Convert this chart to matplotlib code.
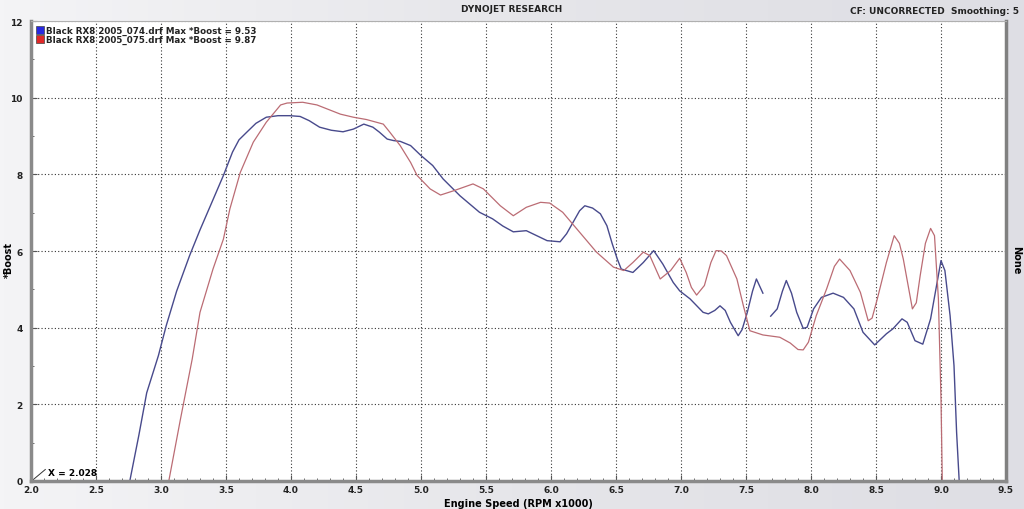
import numpy as np
import matplotlib
matplotlib.use("Agg")
import matplotlib.pyplot as plt
from matplotlib.patches import Rectangle

# run 074 (blue) - boost vs engine speed (RPM x1000)
blue_rpm = [2.76, 2.83, 2.89, 2.98, 3.04, 3.12, 3.22, 3.30, 3.38, 3.48, 3.55, 3.60, 3.66, 3.73, 3.81,
            3.90, 3.99, 4.07, 4.14, 4.22, 4.31, 4.40, 4.48, 4.56, 4.63, 4.68, 4.74, 4.79, 4.84, 4.92,
            5.00, 5.09, 5.17, 5.30, 5.45, 5.55, 5.63, 5.71, 5.81, 5.89, 5.97, 6.07, 6.12, 6.17, 6.22,
            6.26, 6.32, 6.38, 6.43, 6.47, 6.51, 6.54, 6.63, 6.71, 6.79, 6.86,
            6.94, 6.99, 7.07, 7.17, 7.21, 7.26, 7.30, 7.34, 7.38, 7.44, 7.47, 7.51, 7.55, 7.58, 7.63, 7.66,
            7.69, 7.74, 7.78, 7.81, 7.85, 7.89, 7.94, 7.97, 8.02, 8.08, 8.17, 8.25, 8.33, 8.40, 8.49,
            8.58, 8.63, 8.70, 8.74, 8.80, 8.86, 8.92, 8.97, 9.00, 9.03, 9.07, 9.10, 9.12, 9.14]
blue_boost = [0.0, 1.2, 2.3, 3.27, 4.05, 4.95, 5.88, 6.55, 7.18, 7.97, 8.58, 8.90, 9.10, 9.33, 9.49,
              9.53, 9.53, 9.51, 9.40, 9.23, 9.15, 9.11, 9.18, 9.31, 9.23, 9.10, 8.92, 8.88, 8.86, 8.75,
              8.49, 8.23, 7.88, 7.44, 7.01, 6.84, 6.65, 6.50, 6.53, 6.40, 6.27, 6.24, 6.45, 6.75, 7.05,
              7.18, 7.12, 6.97, 6.66, 6.20, 5.79, 5.53, 5.44, 5.70, 6.01, 5.66,
              5.18, 4.96, 4.75, 4.40, 4.36, 4.45, 4.57, 4.45, 4.14, 3.79, 3.95, 4.40, 4.95, 5.27, 4.90, np.nan,
              4.30, 4.49, 4.95, 5.23, 4.90, 4.40, 3.98, 4.01, 4.49, 4.79, 4.90, 4.79, 4.49, 3.88, 3.55,
              3.84, 3.97, 4.23, 4.14, 3.66, 3.57, 4.23, 5.18, 5.75, 5.49, 4.31, 3.01, 1.27, 0.0]

# run 075 (red)
red_rpm = [3.06, 3.15, 3.24, 3.30, 3.40, 3.48, 3.53, 3.61, 3.71, 3.81, 3.92, 3.97, 4.09, 4.20,
           4.38, 4.48, 4.58, 4.71, 4.76, 4.84, 4.92, 4.97, 5.07, 5.15, 5.25, 5.40, 5.48, 5.61,
           5.71, 5.81, 5.92, 5.99, 6.09, 6.22, 6.35, 6.48, 6.56, 6.63, 6.71, 6.76, 6.84, 6.92,
           6.99, 7.04, 7.08, 7.12, 7.18, 7.23, 7.27, 7.31, 7.35, 7.43, 7.48, 7.53, 7.63, 7.76, 7.84, 7.90, 7.94, 7.98,
           8.04, 8.12, 8.18, 8.22, 8.30, 8.38, 8.44, 8.47, 8.51, 8.58, 8.64, 8.68, 8.71, 8.78, 8.81, 8.84, 8.88, 8.92, 8.95,
           8.98, 9.00, 9.01]
red_boost = [0.0, 1.62, 3.18, 4.40, 5.53, 6.31, 7.10, 8.05, 8.84, 9.36, 9.81, 9.86, 9.88, 9.81,
             9.57, 9.49, 9.43, 9.31, 9.10, 8.75, 8.31, 7.97, 7.62, 7.46, 7.57, 7.75, 7.62, 7.18,
             6.92, 7.14, 7.27, 7.25, 7.01, 6.49, 5.97, 5.58, 5.49, 5.70, 5.97, 5.88, 5.27, 5.49,
             5.81, 5.44, 5.05, 4.85, 5.10, 5.70, 6.01, 6.00, 5.88, 5.27, 4.57, 3.92, 3.81, 3.75, 3.60, 3.43, 3.42, 3.62,
             4.31, 5.01, 5.60, 5.79, 5.49, 4.92, 4.18, 4.25, 4.75, 5.70, 6.40, 6.20, 5.79, 4.49, 4.65, 5.36, 6.20, 6.59, 6.40,
             4.75, 2.14, 0.0]

legend_labels = ["Black RX8 2005_074.drf Max *Boost = 9.53",
                 "Black RX8 2005_075.drf Max *Boost = 9.87"]
x_ticks = [2.0, 2.5, 3.0, 3.5, 4.0, 4.5, 5.0, 5.5, 6.0, 6.5, 7.0, 7.5, 8.0, 8.5, 9.0, 9.5]
y_ticks = [0, 2, 4, 6, 8, 10, 12]

blue_col = "#484a8c"
red_col = "#bb6c74"

fig = plt.figure(figsize=(10.24, 5.10), dpi=100)
fig.patch.set_facecolor("#e9e9ec")

# soft grey background gradient
bg = fig.add_axes([0, 0, 1, 1], zorder=-10)
grad = np.linspace(0, 1, 256).reshape(1, -1)
bg.imshow(grad, aspect="auto", cmap=matplotlib.colors.LinearSegmentedColormap.from_list(
    "g", ["#f4f4f6", "#e6e6ea", "#dedee4"]), extent=[0, 1, 0, 1])
bg.axis("off")

ax = fig.add_axes([31 / 1024, 28 / 510, 975 / 1024, 460 / 510])
ax.set_facecolor("white")

ax.plot(blue_rpm, blue_boost, color=blue_col, lw=1.0)
ax.plot(red_rpm, red_boost, color=red_col, lw=0.9)

ax.set_xlim(2.0, 9.5)
ax.set_ylim(0, 12)
ax.set_xticks(x_ticks)
ax.set_xticklabels(["%.1f" % v for v in x_ticks])
ax.set_xticks(np.arange(2.0, 9.51, 0.1), minor=True)
ax.set_yticks(y_ticks)
ax.set_yticks(range(0, 13), minor=True)
ax.grid(True, which="major", color="#333333", ls=(0, (1, 2)), lw=0.8)
ax.tick_params(axis="both", which="both", direction="in", color="#555555")
ax.tick_params(axis="x", which="major", length=4, labelsize=6.5, pad=3)
ax.tick_params(axis="y", which="major", length=4, labelsize=6.5, pad=6)
ax.tick_params(axis="both", which="minor", length=2)
for lab in ax.get_xticklabels() + ax.get_yticklabels():
    lab.set_fontweight("bold")
    lab.set_color("#222222")
for lab in ax.get_yticklabels():
    lab.set_verticalalignment("center_baseline")

ax.spines["left"].set_color("#8a8a8a")
ax.spines["left"].set_linewidth(2.5)
ax.spines["bottom"].set_color("#8a8a8a")
ax.spines["bottom"].set_linewidth(2.5)
ax.spines["top"].set_color("#b0b0b0")
ax.spines["top"].set_linewidth(0.8)
ax.spines["right"].set_color("#808080")
ax.spines["right"].set_linewidth(2.5)

ax.set_xlabel("Engine Speed (RPM x1000)", fontsize=7, fontweight="bold", labelpad=3)
fig.text(9 / 1024, 250 / 510, "*Boost", rotation=90, fontsize=7, fontweight="bold",
         ha="center", va="center")
fig.text(1016 / 1024, 250 / 510, "None", rotation=270, fontsize=7, fontweight="bold",
         ha="center", va="center")

fig.text(0.5, 1 - 10 / 510, "DYNOJET RESEARCH", fontsize=6.5, fontweight="bold",
         ha="center", va="center", color="#222222")
fig.text(1019 / 1024, 1 - 11 / 510, "CF: UNCORRECTED  Smoothing: 5", fontsize=6.5,
         fontweight="bold", ha="right", va="center", color="#222222")

# x cursor readout
ax.plot([2.015, 2.11], [0.03, 0.3], color="#333333", lw=0.7)
ax.text(2.13, 0.23, "X = 2.028", fontsize=6.5, fontweight="bold", va="center")

# legend swatches
for i, lab in enumerate(legend_labels):
    yy = 1 - (31 + 9 * i) / 510
    sw = "#2828e0" if i == 0 else "#e02828"
    fig.patches.append(Rectangle((36 / 1024, yy - 3.5 / 510), 8 / 1024, 7.5 / 510,
                                 transform=fig.transFigure, facecolor=sw,
                                 edgecolor="#444444", lw=0.5))
    fig.text(46 / 1024, yy, lab, fontsize=6.3, fontweight="bold", va="center",
             color="#222222")

fig.savefig("out.png", dpi=100, facecolor=fig.get_facecolor())
